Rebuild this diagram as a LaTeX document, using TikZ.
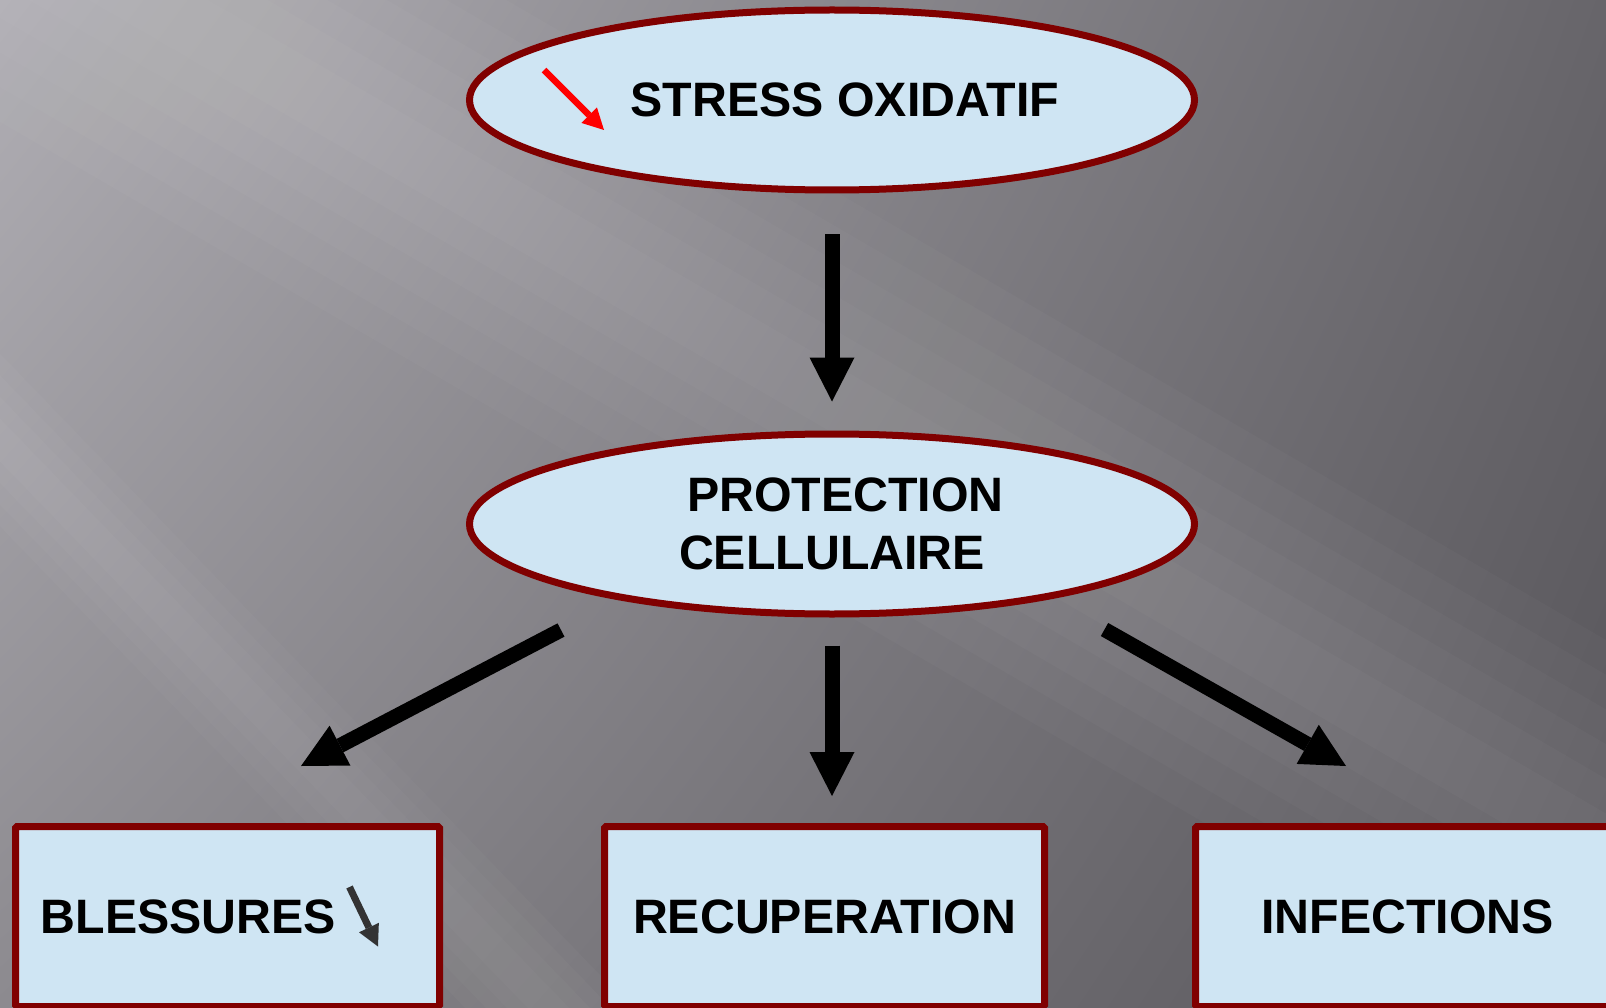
\documentclass[tikz,border=0pt]{standalone}
\usepackage{fontspec}
\setmainfont{Liberation Sans}
\usepackage{tikz}
\usetikzlibrary{arrows.meta,shapes.geometric,shadings}
\usepackage{xcolor}
\definecolor{Maroon}{HTML}{800000}
\definecolor{Sky}{HTML}{CFE5F3}
\definecolor{Ash}{HTML}{333333}
\definecolor{BgUL}{HTML}{B0AEB4}
\definecolor{BgUR}{HTML}{67656A}
\definecolor{BgLL}{HTML}{8C8A8F}
\definecolor{BgLR}{HTML}{57555A}

\begin{document}
\begin{tikzpicture}[x=1pt,y=-1pt,
    bubble/.style={ellipse,draw=Maroon,line width=7pt,fill=Sky,
      minimum width=725pt,minimum height=180pt,inner sep=0pt,align=center,
      font=\fontsize{48.3}{58}\selectfont\bfseries},
    card/.style={rectangle,draw=Maroon,line width=7pt,fill=Sky,
      minimum height=180pt,inner sep=0pt,rounded corners=1.5pt,
      font=\fontsize{48.3}{58}\selectfont\bfseries},
    fat/.style={line width=15pt,-{Triangle[length=44pt,width=45pt,line width=0pt]}},
    thin/.style={line width=6.5pt,-{Triangle[length=21pt,width=22pt,line width=0pt]}}]
    \useasboundingbox (0,0) rectangle (1606,1008);
    \clip (0,0) rectangle (1606,1008);
    % background
    \shade[upper left=BgUL,upper right=BgUR,lower left=BgLL,lower right=BgLR]
      (0,0) rectangle (1606,1008);
    \begin{scope}[shift={(200,30)},rotate=-30.2]
      \foreach \w in {30,60,...,180}
        \fill[white,opacity=.025] (-600,-\w) rectangle (2400,\w);
    \end{scope}
    \begin{scope}[shift={(0,440)},rotate=-46]
      \foreach \w in {15,30,45,60}
        \fill[white,opacity=.025] (-300,-\w) rectangle (1400,\w);
    \end{scope}

    \node[bubble] (stress) at (832,100) {\hspace*{26pt}STRESS OXIDATIF};
    \node[bubble] (prot) at (832,524) {\hspace*{27pt}PROTECTION\\CELLULAIRE};
    \node[card,minimum width=424pt] (bless) at (227.5,916.5) {BLESSURES\hspace*{78pt}};
    \node[card,minimum width=440pt] (recup) at (824.5,916.5) {RECUPERATION};
    \node[card,minimum width=424pt] (infect) at (1407.5,916.5) {INFECTIONS};

    \draw[thin,red] ([shift={(-288,-30)}]stress.center) -- ([shift={(-228,30)}]stress.center);
    \draw[thin,Ash,line width=7pt] ([shift={(122,-29.5)}]bless.center) -- ([shift={(150.5,30)}]bless.center);

    \draw[fat,shorten <=41pt,shorten >=29pt] (stress.south) -- (prot.north);
    \draw[fat,shorten <=28pt,shorten >=27pt] (prot.south) -- (prot.south |- recup.north);
    \coordinate (pl) at ([shift={(-271,106)}]prot.center);
    \coordinate (bl) at ([shift={(73.5,-57)}]bless.north);
    \coordinate (pr) at ([shift={(272.5,105.5)}]prot.center);
    \coordinate (ir) at ([shift={(-61.5,-57)}]infect.north);
    \draw[fat] (pl) -- (bl);
    \draw[fat] (pr) -- (ir);
  \end{tikzpicture}
\end{document}
